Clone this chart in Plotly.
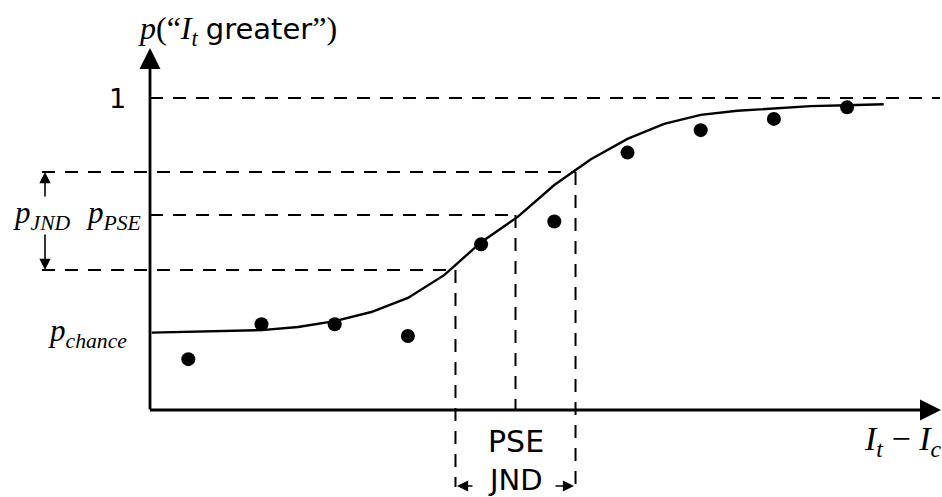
import plotly.graph_objects as go

# ---------------- data ----------------
levels = [1, 2, 3, 4, 5, 6, 7, 8, 9, 10]
p_observed = [0.163, 0.275, 0.275, 0.237, 0.531, 0.604, 0.825, 0.897, 0.933, 0.970]

fit_x = [0.5, 1.0, 1.5, 2.0, 2.5, 3.0, 3.5, 4.0, 4.5, 5.0, 5.5,
         6.0, 6.5, 7.0, 7.5, 8.0, 8.5, 9.0, 9.5, 10.0, 10.5]
fit_p = [0.248, 0.250, 0.253, 0.256, 0.266, 0.285, 0.314, 0.359, 0.433, 0.538, 0.619,
         0.721, 0.804, 0.869, 0.917, 0.946, 0.959, 0.967, 0.974, 0.977, 0.980]

p_top = 1.0
p_chance = 0.25
p_pse = 0.625
p_jnd_lo = 0.449
p_jnd_hi = 0.763
x_jnd_lo = 4.65
x_pse = 5.47
x_jnd_hi = 6.29

# ---------------- layout helpers ----------------
W, H = 942, 497
def px_x(pix):
    return 1 + (pix - 188.3) / 73.2
def px_p(pix):
    return (410 - pix) / 312

X_RANGE = [px_x(0), px_x(W)]
Y_RANGE = [px_p(H), px_p(0)]
x_origin = px_x(150)

SANS = "DejaVu Sans"
SERIF = "Liberation Serif"
DASH = "13px,10px"

fig = go.Figure()

fig.add_trace(go.Scatter(x=fit_x, y=fit_p, mode="lines",
                         line=dict(color="black", width=2.4), hoverinfo="skip"))
fig.add_trace(go.Scatter(x=levels, y=p_observed, mode="markers",
                         marker=dict(color="black", size=14), hoverinfo="skip"))

def hline(y, x0, x1):
    fig.add_shape(type="line", x0=x0, x1=x1, y0=y, y1=y, xref="x", yref="y",
                  line=dict(color="black", width=2, dash=DASH))

def vline(x, y0, y1):
    fig.add_shape(type="line", x0=x, x1=x, y0=y0, y1=y1, xref="x", yref="y",
                  line=dict(color="black", width=2, dash=DASH))

hline(p_top, x_origin, px_x(940))
hline(p_jnd_hi, px_x(42), x_jnd_hi)
hline(p_pse, x_origin, x_pse)
hline(p_jnd_lo, px_x(42), x_jnd_lo)

vline(x_jnd_lo, p_jnd_lo, px_p(487))
vline(x_pse, p_pse, 0)
vline(x_jnd_hi, p_jnd_hi, px_p(490))

def arrow(x, y, ax, ay, width=2.5, size=1.5):
    fig.add_annotation(x=x, y=y, ax=ax, ay=ay, xref="x", yref="y",
                       axref="x", ayref="y", text="", showarrow=True,
                       arrowhead=2, arrowsize=size, arrowwidth=width,
                       arrowcolor="black", standoff=0, startstandoff=0)

# axes
arrow(px_x(941), 0, x_origin - 0.02, 0, width=2.8, size=1.5)
arrow(x_origin, px_p(48), x_origin, px_p(411), width=2.8, size=1.5)

# JND arrows
x_left = px_x(45)
arrow(x_left, p_jnd_hi, x_left, px_p(198), width=1.6, size=1.4)
arrow(x_left, p_jnd_lo, x_left, px_p(233), width=1.6, size=1.4)
y_bot = px_p(486)
arrow(x_jnd_lo + 0.02, y_bot, px_x(474), y_bot, width=1.6, size=1.4)
arrow(x_jnd_hi - 0.02, y_bot, px_x(554), y_bot, width=1.6, size=1.4)

def label(x, y, text, size, family, xanchor="center", yanchor="middle"):
    fig.add_annotation(x=x, y=y, xref="x", yref="y", text=text, showarrow=False,
                       xanchor=xanchor, yanchor=yanchor,
                       font=dict(family=family, size=size, color="black"))

label(px_x(128), p_top, "1", 27, SANS, xanchor="right")
label(px_x(113), p_pse, "<i>p</i><sub><i>PSE</i></sub>", 31, SERIF)
label(px_x(42), p_pse, "<i>p</i><sub><i>JND</i></sub>", 31, SERIF)
label(px_x(87), px_p(333), "<i>p</i><sub><i>chance</i></sub>", 31, SERIF)
label(x_pse, px_p(441), "PSE", 30, SANS)
label(x_pse, px_p(480), "JND", 29, SANS)
label(px_x(862), px_p(441), "<i>I</i><sub><i>t</i></sub> − <i>I</i><sub><i>c</i></sub>",
      34, SERIF, xanchor="left")
label(px_x(237), px_p(30),
      '<i>p</i>(“<i>I</i><sub><i>t</i></sub> <span style="font-family:DejaVu Sans;font-size:29px">greater</span>”)',
      32, SERIF)

fig.update_layout(
    width=W, height=H, margin=dict(l=0, r=0, t=0, b=0),
    paper_bgcolor="white", plot_bgcolor="white", showlegend=False,
    xaxis=dict(range=X_RANGE, visible=False, fixedrange=True),
    yaxis=dict(range=Y_RANGE, visible=False, fixedrange=True),
)

fig.write_html("out.html")
